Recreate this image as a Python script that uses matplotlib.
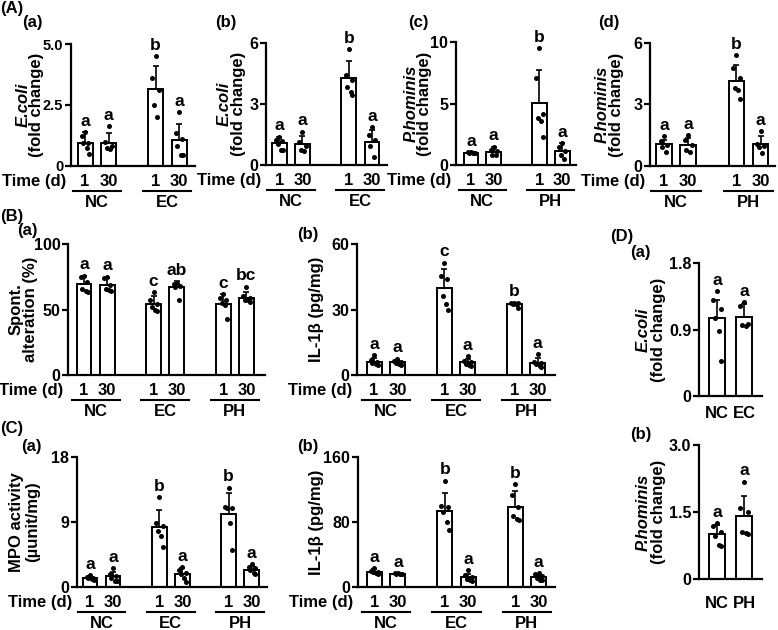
import matplotlib.pyplot as plt
from matplotlib.lines import Line2D

plt.rcParams['font.family'] = ['Liberation Sans', 'DejaVu Sans']
plt.rcParams['font.weight'] = 'bold'
plt.rcParams['font.size'] = 12

W, H = 778, 630

days = ["1", "30"]
groups_ec = ["NC", "EC"]
groups_ph = ["NC", "PH"]
groups_all = ["NC", "EC", "PH"]

# (A) fold change at day 1 / 30
aa_mean = [0.96, 0.96, 3.14, 1.06]
aa_sd = [0.44, 0.40, 0.96, 0.66]
aa_dots = [[1.38, 1.22, 0.95, 0.95, 0.75, 0.50], [1.63, 1.00, 0.80, 0.72, 0.68],
           [4.50, 3.60, 3.10, 2.50, 2.00], [2.20, 1.35, 1.10, 0.80, 0.45, 0.45]]
aa_letters = ["a", "a", "b", "a"]
aa_ticks = [0, 2.5, 5.0]
aa_ticklabels = ["0", "2.5", "5.0"]

ab_mean = [1.07, 1.04, 4.28, 1.15]
ab_sd = [0.33, 0.39, 0.82, 0.58]
ab_dots = [[1.36, 1.25, 1.20, 1.05, 0.75, 0.75], [1.64, 1.15, 0.95, 0.75, 0.70],
           [5.70, 4.45, 4.20, 3.85, 3.60, 3.45], [1.85, 1.50, 1.25, 0.95, 0.40]]
ab_letters = ["a", "a", "b", "a"]
ab_ticks = [0, 3, 6]
ab_ticklabels = ["0", "3", "6"]

ac_mean = [1.00, 1.09, 5.03, 1.14]
ac_sd = [0.05, 0.41, 2.71, 0.63]
ac_dots = [[1.05, 1.02, 1.00, 1.00, 0.98, 0.95], [1.45, 1.25, 1.15, 0.85, 0.80],
           [9.50, 7.05, 4.15, 3.80, 3.60, 2.30], [1.80, 1.50, 1.10, 0.85, 0.45]]
ac_letters = ["a", "a", "b", "a"]
ac_ticks = [0, 5, 10]
ac_ticklabels = ["0", "5", "10"]

ad_mean = [1.06, 1.01, 4.15, 1.06]
ad_sd = [0.23, 0.35, 0.77, 0.39]
ad_dots = [[1.47, 1.20, 1.00, 0.95, 0.68], [1.50, 1.25, 1.00, 0.77, 0.68],
           [5.40, 4.80, 4.30, 3.80, 3.70, 3.25], [1.70, 1.05, 0.98, 0.95, 0.62]]
ad_letters = ["a", "a", "b", "a"]
ad_ticks = [0, 3, 6]
ad_ticklabels = ["0", "3", "6"]

# (B) spontaneous alteration and IL-1b
ba_mean = [69.6, 68.9, 54.1, 66.8, 54.3, 58.7]
ba_sd = [6.2, 5.1, 6.4, 4.6, 7.7, 4.3]
ba_dots = [[75.5, 74.5, 71.0, 66.0, 64.0, 63.5], [75.0, 74.0, 69.0, 66.0, 65.0, 64.5],
           [63.5, 57.0, 54.5, 52.0, 50.0, 49.0], [70.5, 69.5, 68.0, 67.5, 57.5],
           [62.0, 58.5, 57.0, 55.0, 53.5, 43.0], [67.5, 60.0, 58.5, 57.5, 57.0, 56.0]]
ba_letters = ["a", "a", "c", "ab", "c", "bc"]
ba_ticks = [0, 50, 100]
ba_ticklabels = ["0", "50", "100"]

bb_mean = [6.1, 5.8, 40.0, 5.8, 32.5, 5.6]
bb_sd = [1.5, 1.0, 8.4, 1.5, 0.6, 2.0]
bb_dots = [[9.0, 7.0, 6.0, 5.5, 5.0, 4.5], [7.5, 6.5, 6.0, 5.5, 5.0, 4.5],
           [51.5, 45.5, 44.0, 36.0, 32.5, 30.0], [8.5, 6.5, 6.0, 5.0, 4.5, 4.0],
           [33.0, 33.0, 33.0, 32.5, 32.5, 30.5], [9.5, 6.0, 5.5, 5.0, 4.0, 3.5]]
bb_letters = ["a", "a", "c", "a", "b", "a"]
bb_ticks = [0, 30, 60]
bb_ticklabels = ["0", "30", "60"]

# (C) MPO activity and IL-1b
ca_mean = [1.25, 1.52, 8.30, 1.85, 10.15, 2.40]
ca_sd = [0.25, 0.56, 2.40, 0.75, 2.85, 0.55]
ca_dots = [[1.60, 1.45, 1.30, 1.20, 1.05, 0.95], [2.60, 1.85, 1.50, 1.30, 0.85, 0.80],
           [12.4, 8.8, 8.5, 7.8, 7.1, 5.6], [2.80, 2.35, 2.00, 1.80, 1.20, 0.70],
           [13.75, 11.1, 11.0, 10.9, 8.9, 5.1], [3.20, 2.80, 2.60, 2.30, 1.90, 1.80]]
ca_letters = ["a", "a", "b", "a", "b", "a"]
ca_ticks = [0, 9, 18]
ca_ticklabels = ["0", "9", "18"]

cb_mean = [18.8, 16.4, 93.5, 12.3, 98.5, 12.3]
cb_sd = [3.0, 1.0, 22.2, 4.0, 19.2, 3.0]
cb_dots = [[23.0, 20.0, 19.0, 18.0, 17.0, 16.0], [17.5, 17.0, 16.5, 16.5, 15.5, 15.5],
           [131.0, 100.0, 98.0, 92.0, 80.0, 70.0], [20.5, 15.0, 12.0, 10.0, 8.5, 8.0],
           [127.0, 113.0, 98.0, 88.0, 84.0, 82.0], [17.0, 15.5, 13.0, 11.0, 9.0, 8.5]]
cb_letters = ["a", "a", "b", "a", "b", "a"]
cb_ticks = [0, 80, 160]
cb_ticklabels = ["0", "80", "160"]

# (D) fold change, NC vs EC / NC vs PH
da_mean = [1.05, 1.07]
da_sd = [0.25, 0.17]
da_dots = [[1.42, 1.30, 1.18, 1.05, 0.88, 0.48], [1.27, 1.22, 0.98, 0.96, 0.95]]
da_letters = ["a", "a"]
da_ticks = [0, 0.9, 1.8]
da_ticklabels = ["0", "0.9", "1.8"]

db_mean = [1.00, 1.40]
db_sd = [0.21, 0.45]
db_dots = [[1.25, 1.18, 1.06, 0.97, 0.77, 0.74], [2.18, 1.58, 1.50, 1.05, 1.02, 1.00]]
db_letters = ["a", "a"]
db_ticks = [0, 1.5, 3.0]
db_ticklabels = ["0", "1.5", "3.0"]

pos4 = [0, 1, 3, 4]
pos6 = [0, 1, 3, 4, 6, 7]
pos2 = [0, 1]

fig = plt.figure(figsize=(W / 100, H / 100), dpi=100)


def ftext(x, y, s, **kw):
    kw.setdefault('ha', 'center')
    kw.setdefault('va', 'center')
    return fig.text(x / W, 1 - y / H, s, **kw)


def fline(x1, x2, y, lw=1.5):
    fig.add_artist(Line2D([x1 / W, x2 / W], [1 - y / H, 1 - y / H],
                          transform=fig.transFigure, color='black', lw=lw))


def panel(box, xlim, pos, mean, sd, dots, letters, ticks, ticklabels,
          ylabels, ylab_x, groups=None, names=None, name_off=17, width=0.64,
          ticksize=11.5):
    l, t, r, b = box
    ax = fig.add_axes([l / W, 1 - b / H, (r - l) / W, (b - t) / H])
    ax.bar(pos, mean, width=width, color='white', edgecolor='black',
           linewidth=1.4, zorder=2)
    ax.errorbar(pos, mean, yerr=[[0] * len(pos), sd], fmt='none', ecolor='black',
                elinewidth=1.2, capsize=2.5, capthick=1.2, zorder=3)
    offs = [0, -0.14, 0.14, -0.07, 0.08, 0.16]
    for p, d in zip(pos, dots):
        xs = [p + offs[i % len(offs)] for i in range(len(d))]
        ax.scatter(xs, d, s=13, color='black', linewidths=0, zorder=4, clip_on=False)
    for p, m, s, d, lt in zip(pos, mean, sd, dots, letters):
        top = max(m + s, max(d))
        ax.annotate(lt, (p, top), xytext=(0, 4.5), textcoords='offset points',
                    ha='center', va='baseline', fontsize=12.5)
    ax.set_xlim(xlim)
    ax.set_ylim(0, ticks[-1])
    ax.set_yticks(ticks)
    ax.set_yticklabels(ticklabels)
    ax.set_xticks([])
    for side in ['top', 'right']:
        ax.spines[side].set_visible(False)
    for side in ['left', 'bottom']:
        ax.spines[side].set_linewidth(1.6)
    ax.tick_params(axis='y', direction='out', length=4, width=1.6, pad=1.5,
                   labelsize=ticksize)
    ax.patch.set_alpha(0)

    def px(x):
        return l + (x - xlim[0]) / (xlim[1] - xlim[0]) * (r - l)

    ymid = (t + b) / 2
    for (txt, italic), x in zip(ylabels, ylab_x):
        ftext(x, ymid, txt, rotation=90, style='italic' if italic else 'normal',
              fontsize=12)

    if groups is not None:
        ftext(l - 5, b + 15.5, "Time (d)", ha='right')
        for i, p in enumerate(pos):
            ftext(px(p), b + 15.5, days[i % 2])
        for g, name in enumerate(groups):
            c = (pos[2 * g] + pos[2 * g + 1]) / 2
            fline(px(c - 1.03), px(c + 1.03), b + 25)
            ftext(px(c), b + 36.5, name)
    if names is not None:
        for p, name in zip(pos, names):
            ftext(px(p), b + name_off, name)
    return ax


ecoli = [("E.coli", True), ("(fold change)", False)]
phom = [("P.hominis", True), ("(fold change)", False)]

panel((71, 44, 195, 166), (-0.6, 4.68), pos4, aa_mean, aa_sd, aa_dots, aa_letters,
      aa_ticks, aa_ticklabels, ecoli, [23, 37], groups=groups_ec, ticksize=10.5)
panel((266, 43, 387, 165), (-0.57, 4.65), pos4, ab_mean, ab_sd, ab_dots, ab_letters,
      ab_ticks, ab_ticklabels, ecoli, [224, 238], groups=groups_ec)
panel((456, 42, 576, 165), (-0.65, 4.6), pos4, ac_mean, ac_sd, ac_dots, ac_letters,
      ac_ticks, ac_ticklabels, phom, [411, 425], groups=groups_ph)
panel((650, 43, 775, 166), (-0.58, 4.6), pos4, ad_mean, ad_sd, ad_dots, ad_letters,
      ad_ticks, ad_ticklabels, phom, [602, 616], groups=groups_ph)

panel((68, 244, 265, 375), (-0.69, 7.8), pos6, ba_mean, ba_sd, ba_dots, ba_letters,
      ba_ticks, ba_ticklabels, [("Spont.", False), ("alteration (%)", False)],
      [16, 31], groups=groups_all)
panel((357, 244, 555, 375), (-0.73, 7.74), pos6, bb_mean, bb_sd, bb_dots, bb_letters,
      bb_ticks, bb_ticklabels, [("IL-1β (pg/mg)", False)], [317], groups=groups_all)

panel((77, 457, 267, 587), (-0.56, 7.66), pos6, ca_mean, ca_sd, ca_dots, ca_letters,
      ca_ticks, ca_ticklabels, [("MPO activity", False), ("(µunit/mg)", False)],
      [17, 33], groups=groups_all)
panel((358, 457, 555, 587), (-0.7, 7.7), pos6, cb_mean, cb_sd, cb_dots, cb_letters,
      cb_ticks, cb_ticklabels, [("IL-1β (pg/mg)", False)], [316], groups=groups_all)

panel((699, 263, 762, 396), (-0.67, 1.67), pos2, da_mean, da_sd, da_dots, da_letters,
      da_ticks, da_ticklabels, ecoli, [643, 658], names=groups_ec, name_off=17,
      width=0.6)
panel((699, 445, 762, 579), (-0.67, 1.67), pos2, db_mean, db_sd, db_dots, db_letters,
      db_ticks, db_ticklabels, phom, [643, 658], names=groups_ph, name_off=24,
      width=0.6)

# panel letters
for s, x, y in [("(A)", 0, 8), ("(a)", 22, 22), ("(b)", 215, 22), ("(c)", 408, 22),
                ("(d)", 598, 22), ("(B)", 0, 217), ("(a)", 17, 231), ("(b)", 297, 235),
                ("(C)", 0, 428), ("(a)", 21, 446), ("(b)", 297, 446),
                ("(D)", 610, 237), ("(a)", 630, 253), ("(b)", 630, 435)]:
    ftext(x, y, s, ha='left', fontsize=12)

fig.savefig("out.png", dpi=100)
